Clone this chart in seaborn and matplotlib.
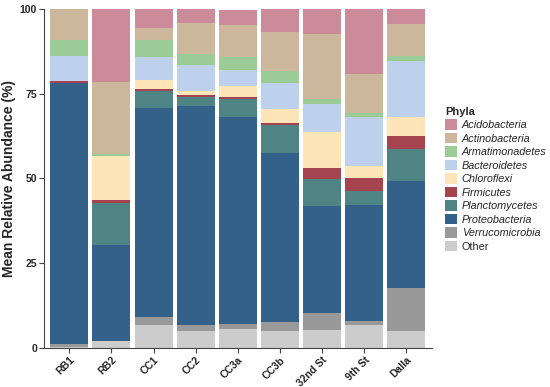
import pandas as pd
import seaborn as sns
import matplotlib.pyplot as plt

sites = ["RB1", "RB2", "CC1", "CC2", "CC3a", "CC3b", "32nd St", "9th St", "Dalla"]
phyla = ["Acidobacteria", "Actinobacteria", "Armatimonadetes", "Bacteroidetes",
         "Chloroflexi", "Firmicutes", "Planctomycetes", "Proteobacteria",
         "Verrucomicrobia", "Other"]
colors = ["#CC8B9B", "#CDB79C", "#9BCB96", "#BDD1EC", "#FEE5B8",
          "#A5434F", "#4E8483", "#33618A", "#999999", "#CCCCCC"]

# mean relative abundance (%) per site
acido = [0.0, 21.4, 5.6, 4.0, 4.5, 6.9, 7.4, 19.3, 4.2]
actino = [9.1, 21.3, 3.4, 9.4, 9.6, 11.4, 19.2, 11.3, 9.5]
armat = [4.7, 0.6, 5.1, 3.2, 3.6, 3.6, 1.3, 1.3, 1.6]
bacter = [7.3, 0.0, 6.7, 7.7, 4.9, 7.5, 8.4, 14.4, 16.4]
chloro = [0.0, 13.0, 2.7, 1.2, 3.3, 4.3, 10.4, 3.7, 5.8]
firmi = [0.6, 0.8, 0.6, 0.4, 0.4, 0.4, 3.3, 3.6, 3.8]
plancto = [0.0, 12.5, 4.9, 2.7, 5.3, 8.3, 7.9, 4.1, 9.4]
proteo = [77.2, 28.3, 61.8, 64.5, 61.2, 49.9, 31.6, 34.2, 31.6]
verruco = [0.7, 0.1, 2.4, 1.8, 1.4, 2.7, 5.1, 1.2, 12.7]
other = [0.4, 2.0, 6.7, 5.1, 5.6, 5.0, 5.3, 6.9, 4.9]

values = [acido, actino, armat, bacter, chloro, firmi, plancto, proteo, verruco, other]
rows = []
for name, vals in zip(phyla, values):
    for site, v in zip(sites, vals):
        rows.append({"site": site, "phylum": name, "abundance": v})
df = pd.DataFrame(rows)
df["site"] = pd.Categorical(df["site"], categories=sites, ordered=True)

sns.set_style("ticks")
plt.rcParams["font.family"] = ["Liberation Sans", "DejaVu Sans"]

fig = plt.figure(figsize=(5.5, 3.87), dpi=100)
ax = fig.add_axes([0.08, 0.1008, 0.705, 0.876])

# stacked bars: first hue level ends up on top
sns.histplot(data=df, x="site", weights="abundance", hue="phylum",
             hue_order=phyla, palette=colors, multiple="stack",
             discrete=True, shrink=0.9, linewidth=0, alpha=1, ax=ax)

ax.set_ylim(0, 100)
ax.set_xlim(-0.6, len(sites) - 0.4)
ax.set_yticks([0, 25, 50, 75, 100])
ax.set_xticks(range(len(sites)))
ax.set_xticklabels(sites, rotation=45, ha="right", rotation_mode="anchor",
                   fontsize=7.5, fontweight="bold")
for t in ax.get_yticklabels():
    t.set_fontweight("bold")
    t.set_fontsize(7.5)
ax.set_xlabel("")
ax.set_ylabel("Mean Relative Abundance (%)", fontsize=10, fontweight="bold",
              labelpad=3)
ax.tick_params(length=3.5, width=0.8, color="#444444", pad=1.5)
sns.despine(ax=ax)
for s in ["left", "bottom"]:
    ax.spines[s].set_color("#444444")
    ax.spines[s].set_linewidth(0.8)

sns.move_legend(ax, "upper left", bbox_to_anchor=(0.809, 0.724),
                bbox_transform=fig.transFigure, frameon=False, title="Phyla",
                fontsize=7.8, title_fontsize=8, handlelength=1.1,
                handleheight=1.1, handletextpad=0.45, labelspacing=0.24,
                borderpad=0, borderaxespad=0, alignment="left")
leg = ax.get_legend()
leg.get_title().set_fontweight("bold")
for t in leg.get_texts():
    if t.get_text() != "Other":
        t.set_fontstyle("italic")

fig.savefig("out.png", dpi=100)
